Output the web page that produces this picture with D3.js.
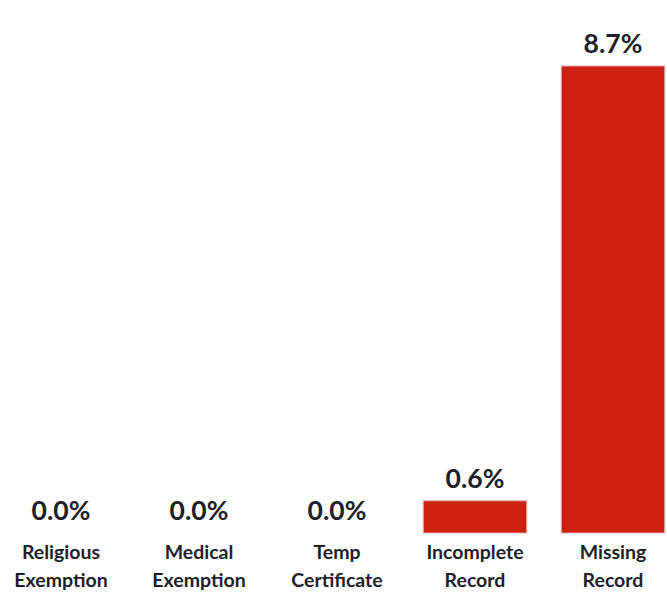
<!DOCTYPE html>
<html>
<head>
<meta charset="utf-8">
<script src="https://cdn.jsdelivr.net/npm/d3@7"></script>
<style>
  html, body { margin: 0; padding: 0; background: #fff; }
  svg { display: block; }
</style>
</head>
<body>
<svg id="chart" width="667" height="597"></svg>
<script>
const categories = [["Religious", "Exemption"], ["Medical", "Exemption"], ["Temp", "Certificate"], ["Incomplete", "Record"], ["Missing", "Record"]];
const values = [0.0, 0.0, 0.0, 0.6, 8.7];
const valueLabels = ["0.0%", "0.0%", "0.0%", "0.6%", "8.7%"];

const svg = d3.select("#chart");
const keys = categories.map(c => c.join(" "));

const x = d3.scaleBand().domain(keys).range([-8, 682]).paddingInner(0.25).paddingOuter(0.125);
const y = d3.scaleLinear().domain([0, 8.7]).range([533, 66]);

const data = keys.map((k, i) => ({ key: k, lines: categories[i], value: values[i], label: valueLabels[i] }));

svg.selectAll("rect.bar").data(data.filter(d => d.value > 0)).join("rect")
  .attr("class", "bar")
  .attr("x", d => x(d.key))
  .attr("y", d => y(d.value))
  .attr("width", x.bandwidth())
  .attr("height", d => y(0) - y(d.value))
  .attr("fill", "#cc2011")
  .attr("stroke", "#d8b0ab")
  .attr("stroke-width", 1);

svg.selectAll("text.val").data(data).join("text")
  .attr("class", "val")
  .attr("x", d => x(d.key) + x.bandwidth() / 2)
  .attr("y", d => y(d.value) - 13)
  .attr("text-anchor", "middle")
  .attr("font-family", "Lato, 'Open Sans', sans-serif")
  .attr("font-weight", "bold")
  .attr("font-size", 26.5)
  .attr("fill", "#1e1e28")
  .text(d => d.label);

const cat = svg.selectAll("text.cat").data(data).join("text")
  .attr("class", "cat")
  .attr("text-anchor", "middle")
  .attr("font-family", "Lato, 'Open Sans', sans-serif")
  .attr("font-weight", "bold")
  .attr("font-size", 19.5)
  .attr("fill", "#1e1e28");
cat.selectAll("tspan").data(d => d.lines.map(l => ({ l, cx: x(d.key) + x.bandwidth() / 2 }))).join("tspan")
  .attr("x", t => t.cx)
  .attr("y", (t, i) => 559 + i * 28)
  .text(t => t.l);
</script>
</body>
</html>
